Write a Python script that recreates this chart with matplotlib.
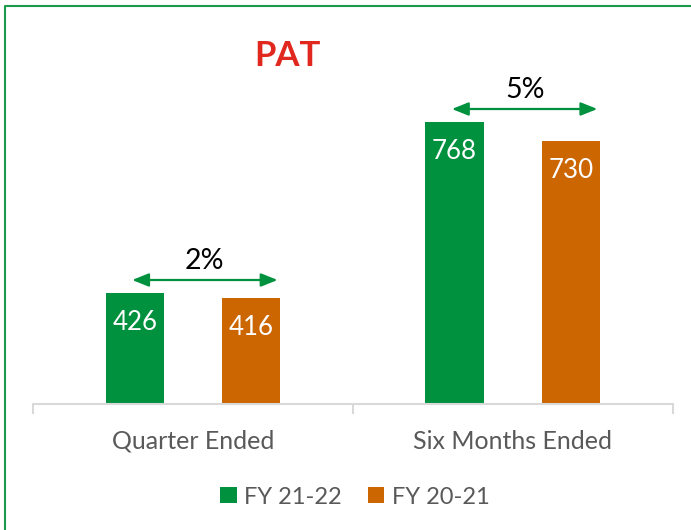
import matplotlib
matplotlib.use("Agg")
import matplotlib.pyplot as plt
from matplotlib.patches import Patch
from matplotlib.lines import Line2D
import numpy as np

plt.rcParams['font.family'] = ['Lato', 'DejaVu Sans']

# data
categories = ["Quarter Ended", "Six Months Ended"]
series_names = ["FY 21-22", "FY 20-21"]
fy22 = [426, 768]
fy21 = [416, 730]
growth = ["2%", "5%"]

green = "#00913F"
orange = "#CC6600"
grey_txt = "#595959"
axis_grey = "#D9D9D9"

fig = plt.figure(figsize=(6.91, 5.30), dpi=100)
ax = fig.add_axes([33 / 691, 126 / 530, 639.5 / 691, 384 / 530])

x = np.arange(len(categories))
w = 0.182
b1 = ax.bar(x - w, fy22, width=w, color=green, zorder=2)
b2 = ax.bar(x + w, fy21, width=w, color=orange, zorder=2)

# value labels inside the bars
for bars, vals in ((b1, fy22), (b2, fy21)):
    for rect, v in zip(bars, vals):
        ax.annotate(str(v), xy=(rect.get_x() + rect.get_width() / 2, v),
                    xytext=(0, -21), textcoords="offset points",
                    ha="center", va="center", color="white", fontsize=18.6)

# growth arrows
for i, g in enumerate(growth):
    y_arr = max(fy22[i], fy21[i]) + 26
    x0, x1 = i - 0.19, i + 0.265
    ax.annotate("", xy=(x1, y_arr), xytext=(x0, y_arr),
                arrowprops=dict(arrowstyle="<|-|>,head_length=0.5,head_width=0.2",
                                mutation_scale=20, color=green, lw=1.6,
                                shrinkA=0, shrinkB=0))
    ax.annotate(g, xy=((x0 + x1) / 2, y_arr), xytext=(0, 14),
                textcoords="offset points", ha="center", va="center",
                color="black", fontsize=20.5)

ax.set_xlim(-0.5, 1.5)
ax.set_ylim(204, 972)

for s in ("top", "right", "left"):
    ax.spines[s].set_visible(False)
ax.spines["bottom"].set_color(axis_grey)
ax.spines["bottom"].set_linewidth(1.5)
ax.set_yticks([])
ax.set_xticks([-0.5, 0.5, 1.5])
ax.set_xticklabels([])
ax.tick_params(axis="x", length=7, width=1.5, color=axis_grey, direction="out")

for i, c in enumerate(categories):
    ax.annotate(c, xy=(i, 0), xycoords=ax.get_xaxis_transform(),
                xytext=(0, -27), textcoords="offset points",
                ha="center", va="center", color=grey_txt, fontsize=18)

fig.text(287.5 / 691, 1 - 56 / 530, "PAT", ha="center", va="center",
         color="#E0281E", fontsize=25, fontweight="bold")

handles = [Patch(facecolor=green), Patch(facecolor=orange)]
leg = fig.legend(handles, series_names, loc="center", ncol=2,
                 bbox_to_anchor=(355 / 691, 1 - 497 / 530), frameon=False,
                 fontsize=17, handlelength=0.68, handleheight=0.68,
                 handletextpad=0.33, columnspacing=1.1)
for t in leg.get_texts():
    t.set_color(grey_txt)

# green frame (only top and left edges visible)
fig.add_artist(Line2D([5 / 691, 5 / 691, 1.0], [0.0, 1 - 6 / 530, 1 - 6 / 530],
                      transform=fig.transFigure, color="#1A9A4A", lw=1.5))

fig.savefig("out.png", dpi=100)
